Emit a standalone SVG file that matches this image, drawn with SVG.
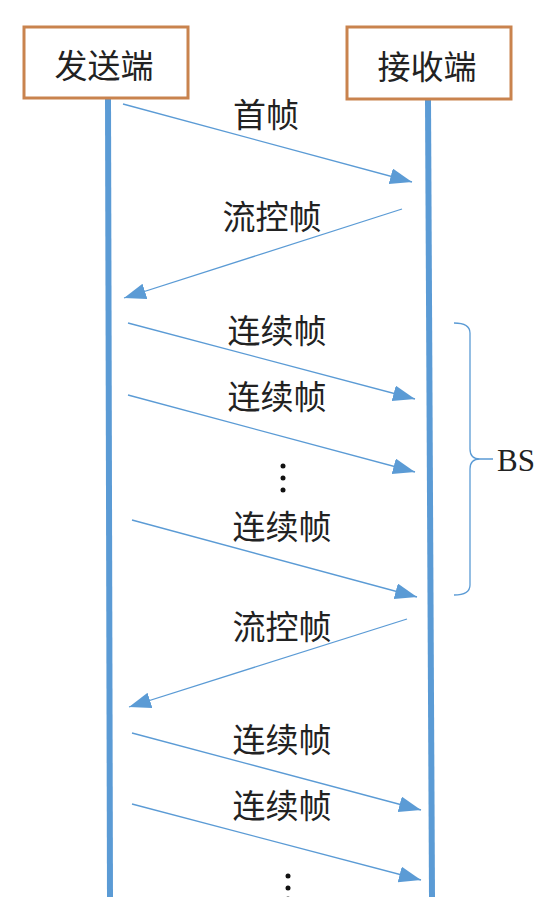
<svg xmlns="http://www.w3.org/2000/svg" width="550" height="897" viewBox="0 0 550 897">
<defs>
<marker id="ah" markerUnits="userSpaceOnUse" markerWidth="24" markerHeight="18" refX="22" refY="8" orient="auto">
<path d="M0,0 L22,8 L0,16 Z" fill="#5B9BD5"/>
</marker>
<style>
.box{fill:#fff;stroke:#C9834E;stroke-width:3}
.life{stroke:#5B9BD5;stroke-width:6;fill:none}
.msg{stroke:#5B9BD5;stroke-width:1.3;fill:none;marker-end:url(#ah)}
.t{font-family:"Noto Sans CJK SC","Noto Sans CJK TC",sans-serif;font-size:33px;fill:#222;text-anchor:middle}
.dot{fill:#111}
.brace{stroke:#5B9BD5;stroke-width:1.3;fill:none}
.bs{font-family:"Liberation Serif",serif;font-size:31px;fill:#222}
</style>
</defs>
<rect width="550" height="897" fill="#fff"/>
<g id="lifelines">
<line class="life" x1="108" y1="97" x2="110" y2="897"/>
<line class="life" x1="428" y1="99" x2="432" y2="897"/>
</g>
<g id="sender">
<rect class="box" x="24" y="27" width="164" height="71"/>
<text class="t" x="104" y="78">发送端</text>
</g>
<g id="receiver">
<rect class="box" x="347" y="27" width="164" height="72"/>
<text class="t" x="427" y="79">接收端</text>
</g>
<g id="connectors">
<line class="msg" x1="123" y1="104" x2="412" y2="182"/>
<line class="msg" x1="402" y1="209" x2="124" y2="298"/>
<line class="msg" x1="128" y1="323" x2="415" y2="399"/>
<line class="msg" x1="128" y1="395" x2="415" y2="472"/>
<line class="msg" x1="132" y1="520" x2="417" y2="597"/>
<line class="msg" x1="407" y1="619" x2="129" y2="707"/>
<line class="msg" x1="132" y1="733" x2="421" y2="810"/>
<line class="msg" x1="132" y1="804" x2="421" y2="880"/>
</g>
<g id="labels">
<text class="t" x="266" y="127">首帧</text>
<text class="t" x="272" y="229">流控帧</text>
<text class="t" x="277" y="343">连续帧</text>
<text class="t" x="277" y="409">连续帧</text>
<text class="t" x="282" y="539">连续帧</text>
<text class="t" x="282" y="639">流控帧</text>
<text class="t" x="282" y="752">连续帧</text>
<text class="t" x="282" y="818">连续帧</text>
</g>
<g id="ellipsis1">
<circle class="dot" cx="283" cy="466" r="2.5"/>
<circle class="dot" cx="283" cy="478" r="2.5"/>
<circle class="dot" cx="283" cy="490" r="2.5"/>
</g>
<g id="ellipsis2">
<circle class="dot" cx="288" cy="876" r="2.5"/>
<circle class="dot" cx="288" cy="888" r="2.5"/>
<circle class="dot" cx="288" cy="899" r="2.5"/>
</g>
<g id="bs">
<path class="brace" d="M454,323 Q470,323 470,333 L470,449 Q470,459 480,459 L493,459 M480,459 Q470,459 470,469 L470,585 Q470,595 454,595"/>
<text class="bs" x="497" y="471">BS</text>
</g>
</svg>
